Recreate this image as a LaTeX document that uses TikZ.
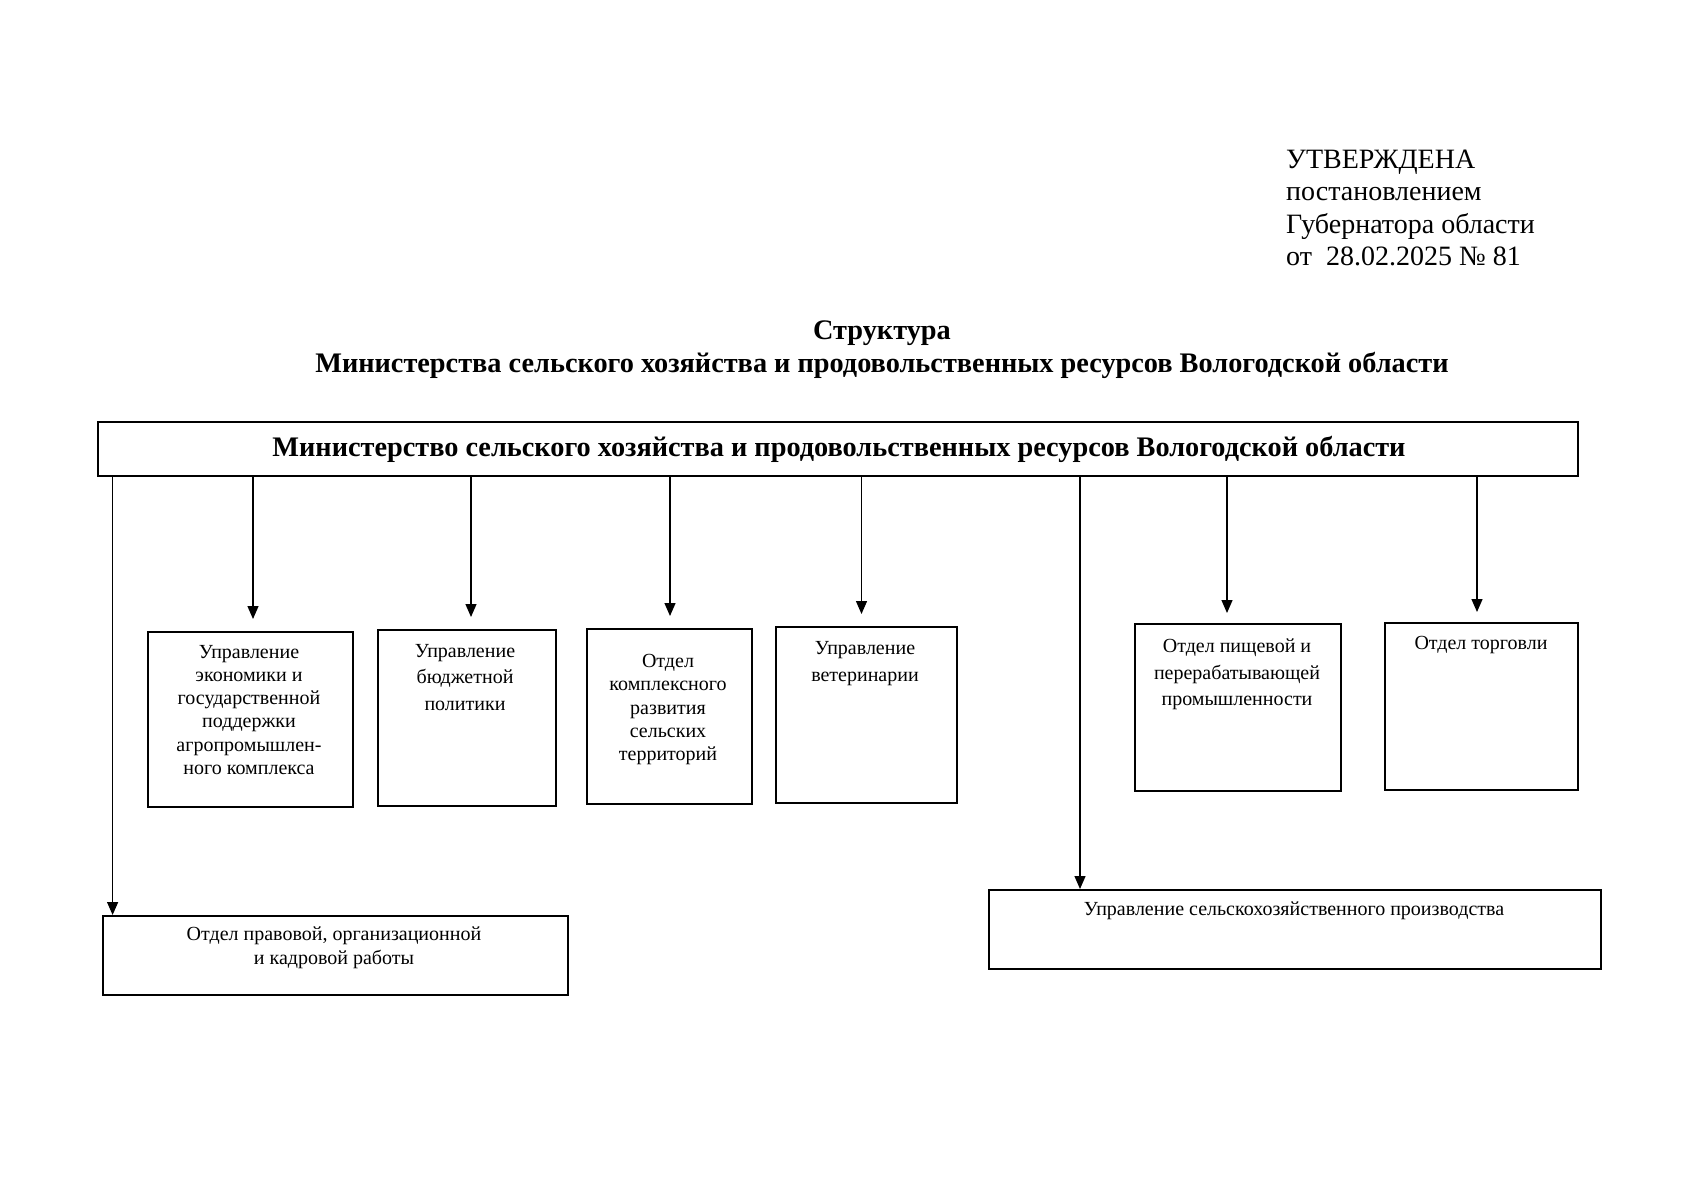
\documentclass[tikz,border=0pt]{standalone}
\usepackage{fontspec}
\setmainfont{Liberation Serif}
\usetikzlibrary{arrows.meta}
\begin{document}
\begin{tikzpicture}[x=1pt,y=-1pt,
 boxstyle/.style={draw, line width=1.5pt, inner sep=0pt, anchor=north west},
 arr/.style={line width=1.3pt, -{Triangle[length=13pt,width=11pt]}},
 boxtext/.style={anchor=north, align=center, inner sep=0pt},
 bigtext/.style={inner sep=0pt, font=\fontsize{28}{32.5}\selectfont}
]
\useasboundingbox[fill=white] (0,0) rectangle (1697,1200);

% header
\node[bigtext, anchor=north west, align=left] (appr) at (1286,149.5)
 {УТВЕРЖДЕНА\\постановлением\\Губернатора области\\от\ \ 28.02.2025 № 81};
\node[inner sep=0pt, anchor=north, align=center, font=\fontsize{28.3}{33}\selectfont\bfseries] (title) at (882,320.5)
 {Структура\\Министерства сельского хозяйства и продовольственных ресурсов Вологодской области};

% top box
\node[boxstyle, minimum width=1480pt, minimum height=54pt] (top) at (97,421) {};
\node[inner sep=0pt, anchor=base, font=\fontsize{28.3}{32}\selectfont\bfseries] (toptext) at (839,456)
 {Министерство сельского хозяйства и продовольственных ресурсов Вологодской области};

% boxes
\node[boxstyle, minimum width=205pt, minimum height=175pt] (b1) at (147,631) {};
\node[boxstyle, minimum width=178pt, minimum height=176pt] (b2) at (377,629) {};
\node[boxstyle, minimum width=165pt, minimum height=175pt] (b3) at (586,628) {};
\node[boxstyle, minimum width=181pt, minimum height=176pt] (b4) at (775,626) {};
\node[boxstyle, minimum width=206pt, minimum height=167pt] (b5) at (1134,623) {};
\node[boxstyle, minimum width=193pt, minimum height=167pt] (b6) at (1384,622) {};
\node[boxstyle, minimum width=465pt, minimum height=79pt] (b7) at (102,915) {};
\node[boxstyle, minimum width=612pt, minimum height=79pt] (b8) at (988,889) {};

% box texts
\node[boxtext, font=\fontsize{20}{23.2}\selectfont] (t1) at (249,645)
 {Управление\\экономики и\\государственной\\поддержки\\агропромышлен-\\ного комплекса};
\node[boxtext, font=\fontsize{20}{26.5}\selectfont] (t2) at (465,644)
 {Управление\\бюджетной\\политики};
\node[boxtext, font=\fontsize{20}{23.3}\selectfont] (t3) at (668,654)
 {Отдел\\комплексного\\развития\\сельских\\территорий};
\node[boxtext, font=\fontsize{20}{27}\selectfont] (t4) at (865,641)
 {Управление\\ветеринарии};
\node[boxtext, font=\fontsize{20}{26.5}\selectfont] (t5) at (1237,639)
 {Отдел пищевой и\\перерабатывающей\\промышленности};
\node[boxtext, font=\fontsize{20}{24}\selectfont] (t6) at (1481,636)
 {Отдел торговли};
\node[boxtext, font=\fontsize{20}{24}\selectfont] (t7) at (334,926.5)
 {Отдел правовой, организационной\\и кадровой работы};
\node[boxtext, font=\fontsize{20}{24}\selectfont] (t8) at (1294,901.6)
 {Управление сельскохозяйственного производства};

% connector columns
\coordinate (c1) at (253,0);
\coordinate (c2) at (471,0);
\coordinate (c3) at (670,0);
\coordinate (c4) at (861.5,0);
\coordinate (c5) at (1227,0);
\coordinate (c6) at (1477,0);
\coordinate (cl) at (112.6,0);
\coordinate (cr) at (1080,0);

\draw[arr, shorten >=12pt] (top.south -| c1) -- (b1.north -| c1);
\draw[arr, shorten >=12pt] (top.south -| c2) -- (b2.north -| c2);
\draw[arr, shorten >=12pt] (top.south -| c3) -- (b3.north -| c3);
\draw[arr, shorten >=12pt] (top.south -| c4) -- (b4.north -| c4);
\draw[arr, shorten >=10pt] (top.south -| c5) -- (b5.north -| c5);
\draw[arr, shorten >=10pt] (top.south -| c6) -- (b6.north -| c6);
\draw[arr] (top.south -| cl) -- (b7.north -| cl);
\draw[arr] (top.south -| cr) -- (b8.north -| cr);
\end{tikzpicture}
\end{document}
